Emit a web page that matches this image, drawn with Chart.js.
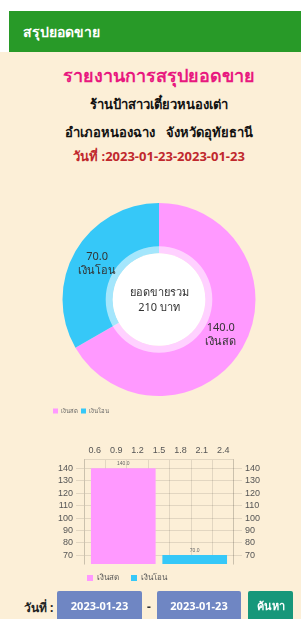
<!DOCTYPE html>
<html>
<head>
<meta charset="utf-8">
<script src="https://cdn.jsdelivr.net/npm/chart.js@4/dist/chart.umd.min.js"></script>
<style>
body { margin: 0; width: 301px; height: 619px; background: #fff; overflow: hidden; position: relative; font-family: "Noto Sans", sans-serif; }
#head { position: absolute; left: 9px; top: 11px; width: 292px; height: 41px; background: #289a28; color: #fff; font-weight: bold; font-size: 14px; line-height: 41px; padding-left: 14px; box-sizing: border-box; }
#page { position: absolute; left: 0; top: 52px; width: 301px; height: 567px; background: #fcefd7; }
.t { position: absolute; left: 17px; right: 0; text-align: center; font-weight: bold; white-space: nowrap; }
#donutBox { position: absolute; left: 50px; top: 203px; width: 218px; height: 212px; }
#barBox { position: absolute; left: 55px; top: 441px; width: 208px; height: 153px; }
.btn { position: absolute; top: 591px; height: 30px; line-height: 30px; color: #fff; font-weight: bold; font-size: 11px; text-align: center; border-radius: 2px; }
</style>
</head>
<body>
<div id="head">สรุปยอดขาย</div>
<div id="page"></div>
<div class="t" style="top:61px;font-size:18px;color:#e8197f;">รายงานการสรุปยอดขาย</div>
<div class="t" style="top:94px;font-size:13px;color:#111;">ร้านป้าสาวเตี๋ยวหนองเต่า</div>
<div class="t" style="top:122px;font-size:13px;color:#111;">อำเภอหนองฉาง&nbsp;&nbsp;&nbsp;จังหวัดอุทัยธานี</div>
<div class="t" style="top:146px;font-size:13px;color:#c0282d;">วันที่ :2023-01-23-2023-01-23</div>

<div id="donutBox"><canvas id="donutChart"></canvas></div>
<div id="barBox"><canvas id="barChart"></canvas></div>

<div style="position:absolute;left:24px;top:598px;font-size:12px;font-weight:bold;color:#222;">วันที่ :</div>
<div class="btn" style="left:57px;width:85px;background:#6f86c3;">2023-01-23</div>
<div style="position:absolute;left:147px;top:598px;font-size:12px;font-weight:bold;color:#333;">-</div>
<div class="btn" style="left:157px;width:84px;background:#6f86c3;">2023-01-23</div>
<div class="btn" style="left:248px;width:45px;background:#17977a;">ค้นหา</div>

<script>
// sales by payment type
const payTypes = ['เงินสด', 'เงินโอน'];
const payTotals = [140, 70];
const payColors = ['#ff99ff', '#36c8f8'];

// bar chart axes
const barX = [1, 2];
const xTicks = [0.6, 0.9, 1.2, 1.5, 1.8, 2.1, 2.4];
const yTicks = [140, 130, 120, 110, 100, 90, 80, 70];
const yRange = [63, 147];

const totalSales = payTotals.reduce((a, b) => a + b, 0);

// labels on the arcs + white centre with total
const donutText = {
    id: 'donutText',
    afterDatasetsDraw(chart) {
        const ctx = chart.ctx;
        const arcs = chart.getDatasetMeta(0).data;
        const { x, y, innerRadius } = arcs[0];
        ctx.save();
        ctx.fillStyle = 'rgba(255,255,255,0.55)';
        ctx.beginPath();
        ctx.arc(x, y, innerRadius + 7, 0, Math.PI * 2);
        ctx.arc(x, y, innerRadius, 0, Math.PI * 2, true);
        ctx.fill();
        ctx.fillStyle = '#fff';
        ctx.beginPath();
        ctx.arc(x, y, innerRadius, 0, Math.PI * 2);
        ctx.fill();

        ctx.textAlign = 'center';
        ctx.textBaseline = 'middle';
        ctx.fillStyle = '#333';
        ctx.font = '11px "Noto Sans", sans-serif';
        arcs.forEach((arc, i) => {
            const p = arc.tooltipPosition();
            ctx.fillText(payTotals[i].toFixed(1), p.x, p.y - 7);
            ctx.fillText(payTypes[i], p.x, p.y + 7);
        });
        ctx.fillText('ยอดขายรวม', x, y - 7);
        ctx.fillText(totalSales + ' บาท', x, y + 8);
        ctx.restore();
    }
};

// nudge the legend after layout (options: dx, dy, fromArea)
const legendShift = {
    id: 'legendShift',
    afterLayout(chart, args, opts) {
        const lg = chart.legend;
        if (opts.fromArea) lg.left = chart.chartArea.left;
        lg.left += opts.dx || 0;
        lg.top += opts.dy || 0;
    }
};

new Chart(document.getElementById('donutChart'), {
    type: 'doughnut',
    data: {
        labels: payTypes,
        datasets: [{
            data: payTotals,
            backgroundColor: payColors,
            borderWidth: 0
        }]
    },
    options: {
        responsive: true,
        maintainAspectRatio: false,
        animation: false,
        cutout: '48%',
        plugins: {
            legend: {
                position: 'bottom',
                align: 'start',
                labels: { boxWidth: 5, boxHeight: 5, padding: 3, color: '#666', font: { size: 6 } }
            },
            legendShift: { dy: 9 },
            tooltip: { enabled: false }
        }
    },
    plugins: [donutText, legendShift]
});

// small value text above each bar
const barText = {
    id: 'barText',
    afterDatasetsDraw(chart) {
        const ctx = chart.ctx;
        ctx.save();
        ctx.textAlign = 'center';
        ctx.textBaseline = 'bottom';
        ctx.fillStyle = '#666';
        ctx.font = '5px sans-serif';
        chart.data.datasets.forEach((ds, i) => {
            const bar = chart.getDatasetMeta(i).data[0];
            ctx.fillText(payTotals[i].toFixed(1), bar.x, bar.y - 2);
        });
        ctx.restore();
    }
};

const setTicks = list => scale => { scale.ticks = list.map(v => ({ value: v })); };
const tickStyle = { color: '#555', font: { size: 9 }, autoSkip: false };

new Chart(document.getElementById('barChart'), {
    type: 'bar',
    data: {
        datasets: payTypes.map((name, i) => ({
            label: name,
            data: [{ x: barX[i], y: payTotals[i] }],
            backgroundColor: payColors[i],
            grouped: false,
            barThickness: 64
        }))
    },
    options: {
        responsive: true,
        maintainAspectRatio: false,
        animation: false,
        scales: {
            x: {
                type: 'linear',
                position: 'top',
                min: xTicks[0],
                max: xTicks[xTicks.length - 1],
                afterBuildTicks: setTicks(xTicks),
                ticks: { ...tickStyle, padding: 4 },
                grid: { color: 'rgba(0,0,0,0.1)', drawTicks: false }
            },
            y: {
                position: 'left',
                min: yRange[0],
                max: yRange[1],
                afterBuildTicks: setTicks(yTicks),
                ticks: tickStyle,
                grid: { color: 'rgba(0,0,0,0.1)' }
            },
            y2: {
                position: 'right',
                min: yRange[0],
                max: yRange[1],
                afterBuildTicks: setTicks(yTicks),
                ticks: tickStyle,
                grid: { drawOnChartArea: false }
            }
        },
        plugins: {
            legend: {
                position: 'bottom',
                align: 'start',
                labels: { boxWidth: 6, boxHeight: 6, padding: 12, color: '#555', font: { size: 8 } }
            },
            legendShift: { fromArea: true, dx: -9, dy: -2 },
            tooltip: { enabled: false }
        }
    },
    plugins: [barText, legendShift]
});
</script>
</body>
</html>
